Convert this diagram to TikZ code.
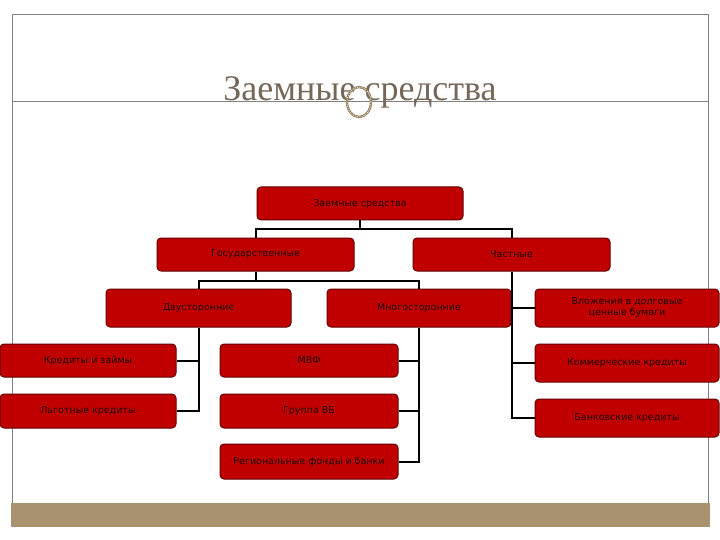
\documentclass[tikz,border=0pt]{standalone}
\usepackage{fontspec}
\setmainfont{DejaVu Sans}
\newfontfamily\titlefont{Liberation Serif}
\usepackage{xcolor}
\usetikzlibrary{calc}
\definecolor{boxred}{RGB}{192,0,0}
\definecolor{boxrim}{RGB}{100,0,0}
\definecolor{boxtext}{RGB}{30,0,0}
\definecolor{titlegray}{RGB}{118,104,88}
\definecolor{band}{RGB}{168,146,112}
\definecolor{ringbrown}{RGB}{150,128,92}
\definecolor{framegray}{RGB}{128,128,128}
\tikzset{
 redbox/.style={draw=boxrim, line width=1pt, fill=boxred, rounded corners=4pt,
   text=boxtext, align=center, inner sep=1pt,
   font=\fontsize{9.5}{11}\selectfont},
 link/.style={black, line width=2pt}
}

\begin{document}
\begin{tikzpicture}[x=1pt,y=-1pt]
\useasboundingbox (0,0) rectangle (720,540);
% frame and band
\draw[framegray, line width=.8pt] (12,505) -- (12,14) -- (708,14) -- (708,505);
\draw[framegray, line width=.8pt] (12,101) -- (708,101);
\fill[band] (11,503) rectangle (710,527);
% title
\node[anchor=base, text=titlegray, font=\titlefont\fontsize{36}{40}\selectfont, inner sep=0] (title) at (360,101) {Заемные средства};
\draw[ringbrown, line width=2.4pt] (359,102) ellipse (12 and 15);
\draw[white, line width=.6pt, dash pattern=on 1pt off 1.2pt] (359,102) ellipse (12 and 15);

% level 0 and 1
\node[redbox, minimum width=206, minimum height=33] (root) at (360,203.5) {Заемные средства};
\node[redbox, minimum width=197, minimum height=33] (gos) at (255.5,254.5) {Государственные};
\node[redbox, minimum width=197, minimum height=33] (chast) at (511.5,254.5) {Частные};
% level 2
\node[redbox, minimum width=185, minimum height=38] (dvus) at (198.5,308) {Двусторонние};
\node[redbox, minimum width=184, minimum height=38] (mnogo) at (419,308) {Многосторонние};
% leaves
\foreach \name/\x/\y/\w/\h/\txt in {
  kred/88/360.5/176/33/{Кредиты и займы},
  lgot/88/411/176/34/{Льготные кредиты},
  mvf/309/360.5/178/33/{МВФ},
  grvb/309/411/178/34/{Группа ВБ},
  reg/309/461.5/178/35/{Региональные фонды и банки},
  vlozh/627/308/184/38/{Вложения в долговые\\ценные бумаги},
  komm/627/363/184/38/{Коммерческие кредиты},
  bank/627/418/184/38/{Банковские кредиты}}
  \node[redbox, minimum width=\w, minimum height=\h] (\name) at (\x,\y) {\txt};

% connectors
\draw[link] (root.south) -- ++(0,9) -| (gos.north);
\draw[link] (root.south) -- ++(0,9) -| (chast.north);
\draw[link] (gos.south) -- ++(0,9) -| (dvus.north);
\draw[link] (gos.south) -- ++(0,9) -| (mnogo.north);
\foreach \leaf in {kred,lgot}
  \draw[link] (dvus.south) |- (\leaf.east);
\foreach \leaf in {mvf,grvb,reg}
  \draw[link] (mnogo.south) |- (\leaf.east);
\foreach \leaf in {vlozh,komm,bank}
  \draw[link] (chast.south) |- (\leaf.west);
\end{tikzpicture}
\end{document}
